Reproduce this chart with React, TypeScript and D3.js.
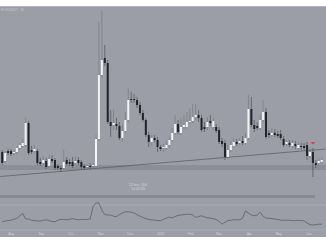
import React from "react";
import * as d3 from "d3";

// 3-day candles, Jul 2023 – Jun 2024 (arbitrary price units)
const opens = [
  0.48, 0.39, 0.49, 0.49, 0.47, 0.48, 0.52, 0.54, 0.55, 0.77,
  0.50, 0.49, 0.49, 0.38, 0.37, 0.39, 0.34, 0.41, 0.40, 0.34,
  0.32, 0.32, 0.40, 0.38, 0.38, 0.37, 0.40, 0.38, 0.34, 0.33,
  0.34, 0.34, 0.34, 0.61, 1.25, 1.42, 1.37, 0.78, 0.75, 0.76,
  0.74, 0.62, 0.69, 0.80, 1.01, 1.01, 1.00, 0.95, 0.87, 0.80,
  0.65, 0.58, 0.62, 0.60, 0.53, 0.52, 0.52, 0.55, 0.60, 0.67,
  0.76, 0.67, 0.73, 0.73, 0.78, 0.79, 0.83, 0.85, 0.82, 0.73,
  0.73, 0.79, 0.73, 0.73, 0.70, 0.59, 0.57, 0.43, 0.50, 0.54,
  0.58, 0.57, 0.59, 0.57, 0.62, 0.91, 0.75, 0.74, 0.72, 0.80,
  0.88, 0.67, 0.65, 0.67, 0.66, 0.66, 0.61, 0.56, 0.57, 0.54,
  0.56, 0.52, 0.54, 0.54, 0.55, 0.44, 0.48, 0.37, 0.37, 0.38,
];
const highs = [
  0.50, 0.49, 0.51, 0.51, 0.50, 0.54, 0.57, 0.61, 0.82, 0.79,
  0.54, 0.55, 0.51, 0.42, 0.44, 0.42, 0.45, 0.45, 0.42, 0.36,
  0.34, 0.50, 0.43, 0.41, 0.43, 0.44, 0.43, 0.40, 0.36, 0.36,
  0.37, 0.37, 0.65, 1.78, 1.90, 1.55, 1.40, 0.90, 0.90, 0.82,
  0.78, 0.75, 0.88, 1.12, 1.08, 1.06, 1.03, 0.98, 0.90, 0.82,
  0.68, 0.65, 0.65, 0.63, 0.55, 0.56, 0.59, 0.63, 0.72, 0.85,
  0.80, 0.82, 0.85, 0.88, 0.92, 0.96, 0.96, 0.90, 0.85, 0.78,
  0.83, 0.85, 0.82, 0.76, 0.73, 0.62, 0.60, 0.55, 0.59, 0.62,
  0.61, 0.62, 0.64, 0.67, 1.05, 1.03, 0.80, 0.78, 0.85, 1.00,
  0.92, 0.70, 0.72, 0.71, 0.69, 0.70, 0.64, 0.60, 0.60, 0.60,
  0.59, 0.58, 0.57, 0.57, 0.58, 0.52, 0.52, 0.40, 0.42, 0.42,
];
const lows = [
  0.35, 0.37, 0.45, 0.44, 0.45, 0.46, 0.50, 0.52, 0.53, 0.45,
  0.46, 0.47, 0.35, 0.34, 0.35, 0.31, 0.32, 0.37, 0.30, 0.30,
  0.28, 0.30, 0.34, 0.34, 0.32, 0.35, 0.35, 0.31, 0.30, 0.31,
  0.31, 0.32, 0.33, 0.59, 1.22, 1.34, 0.76, 0.63, 0.70, 0.70,
  0.60, 0.58, 0.67, 0.78, 0.97, 0.97, 0.92, 0.85, 0.78, 0.63,
  0.53, 0.54, 0.58, 0.48, 0.49, 0.48, 0.50, 0.52, 0.58, 0.65,
  0.66, 0.65, 0.70, 0.71, 0.76, 0.77, 0.80, 0.78, 0.68, 0.68,
  0.70, 0.74, 0.70, 0.67, 0.56, 0.53, 0.40, 0.41, 0.48, 0.52,
  0.54, 0.55, 0.55, 0.55, 0.60, 0.73, 0.68, 0.70, 0.70, 0.78,
  0.61, 0.62, 0.63, 0.63, 0.62, 0.60, 0.53, 0.54, 0.53, 0.52,
  0.51, 0.50, 0.50, 0.50, 0.40, 0.42, 0.23, 0.32, 0.34, 0.36,
];
const closes = [
  0.37, 0.47, 0.47, 0.46, 0.48, 0.52, 0.55, 0.57, 0.77, 0.47,
  0.48, 0.51, 0.37, 0.36, 0.40, 0.33, 0.41, 0.39, 0.32, 0.32,
  0.31, 0.38, 0.36, 0.36, 0.34, 0.39, 0.37, 0.33, 0.32, 0.34,
  0.33, 0.35, 0.61, 1.25, 1.40, 1.37, 0.78, 0.74, 0.77, 0.74,
  0.62, 0.69, 0.80, 1.00, 1.00, 1.00, 0.95, 0.87, 0.80, 0.65,
  0.58, 0.62, 0.60, 0.53, 0.51, 0.53, 0.55, 0.60, 0.67, 0.76,
  0.68, 0.73, 0.75, 0.78, 0.79, 0.83, 0.85, 0.82, 0.70, 0.71,
  0.78, 0.77, 0.79, 0.69, 0.58, 0.56, 0.43, 0.50, 0.55, 0.58,
  0.56, 0.59, 0.57, 0.62, 0.91, 0.75, 0.71, 0.72, 0.80, 0.88,
  0.63, 0.65, 0.67, 0.65, 0.64, 0.62, 0.55, 0.58, 0.55, 0.57,
  0.54, 0.55, 0.53, 0.52, 0.44, 0.48, 0.37, 0.35, 0.39, 0.40,
];
const oscillator = [
  38, 40, 41, 42, 44, 47, 53, 59, 45, 45,
  42, 41, 40, 40, 42, 43, 41, 39, 38, 42,
  44, 44, 43, 44, 46, 44, 43, 44, 44, 44,
  45, 76, 85, 85, 67, 56, 55, 55, 52, 51,
  56, 60, 63, 63, 62, 60, 56, 52, 49, 46,
  44, 43, 42, 41, 41, 44, 47, 50, 48, 51,
  54, 55, 56, 57, 57, 55, 49, 51, 53, 50,
  48, 47, 46, 44, 39, 32, 37, 41, 42, 43,
  43, 43, 47, 65, 60, 55, 53, 55, 62, 52,
  47, 47, 46, 45, 44, 42, 42, 42, 42, 41,
  41, 42, 41, 40, 35, 31, 30, 31, 32, 32,
];
const monthLabels = ["Aug", "Sep", "Oct", "Nov", "Dec", "2024", "Feb", "Mar", "Apr", "May", "Jun"];
const trendDates = [new Date(2023, 6, 21), new Date(2024, 5, 18)];
const trendPrices = [0.235, 0.51];
const supportZone = [0.30, 0.35];
const signalIndex = 106;

export default function App() {
  const W = 326, H = 245;
  const start = new Date(2023, 6, 23);
  const dates = opens.map((_, i) => d3.timeDay.offset(start, 3 * i));
  const x = d3.scaleTime().domain([new Date(2023, 7, 1), new Date(2024, 5, 1)]).range([11, 309]);
  const y = d3.scaleLinear().domain([0, 2]).range([200, 0]);
  const yo = d3.scaleLinear().domain([20, 80]).range([229, 205]);
  const monthDates = d3.timeMonth.range(new Date(2023, 7, 1), new Date(2024, 5, 2));
  const oscLine = d3.line<number>().x((_, i) => x(dates[i])).y((v) => yo(v));
  const bw = 2;
  const font = "'Liberation Sans', Arial, sans-serif";
  const sx = dates[signalIndex];

  return (
    <svg width={W} height={H} style={{ position: "absolute", left: 0, top: 0, display: "block" }}>
      <rect x={0} y={0} width={W} height={H} fill="#9c9ea7" />
      <rect x={0} y={0} width={W} height={6} fill="#ffffff" />
      <line x1={0} x2={W} y1={6.5} y2={6.5} stroke="#b3b5bc" strokeWidth={1} />
      <rect x={0} y={237} width={W} height={8} fill="#ffffff" />
      <text x={1} y={11} fontSize={3} fill="#c6c8cf" fontFamily={font}>FLOKIUSDT · 3D</text>

      {/* support zone */}
      <rect x={0} y={y(supportZone[1])} width={W} height={y(supportZone[0]) - y(supportZone[1])} fill="#8b8d97" />
      {/* trend line */}
      <line x1={x(trendDates[0])} y1={y(trendPrices[0])} x2={x(trendDates[1])} y2={y(trendPrices[1])} stroke="#555862" strokeWidth={0.7} />

      {/* candles */}
      {dates.map((d, i) => {
        const cx = x(d);
        const up = closes[i] >= opens[i];
        const top = y(Math.max(opens[i], closes[i]));
        const bot = y(Math.min(opens[i], closes[i]));
        return (
          <g key={i}>
            <line x1={cx} x2={cx} y1={y(highs[i])} y2={y(lows[i])} stroke={up ? "#70737d" : "#42444d"} strokeWidth={0.6} />
            <rect x={cx - bw / 2} y={top} width={bw} height={Math.max(1, bot - top)} fill={up ? "#f3f3f5" : "#22242c"} />
          </g>
        );
      })}
      {/* signal marker */}
      <path d={`M${x(sx) - 2.5},${y(highs[signalIndex]) - 6} L${x(sx) + 2.5},${y(highs[signalIndex]) - 6} L${x(sx)},${y(highs[signalIndex]) - 3.5} Z`} fill="#e0403c" />

      {/* measurement label */}
      <text x={138} y={185.5} fontSize={2.8} fill="#d0d2d8" textAnchor="middle" fontFamily={font}>111 bars, 330d</text>
      <text x={138} y={189.5} fontSize={2.8} fill="#d0d2d8" textAnchor="middle" fontFamily={font}>Vol 46.12B</text>
      <rect x={0} y={195} width={315} height={3} fill="#878993" />

      {/* oscillator pane */}
      <line x1={0} x2={W} y1={205} y2={205} stroke="#b0b2ba" strokeWidth={0.7} />
      <line x1={0} x2={W} y1={230} y2={230} stroke="#b0b2ba" strokeWidth={0.7} />
      <path d={oscLine(oscillator) || ""} fill="none" stroke="#5a5d68" strokeWidth={0.8} />

      {/* time axis */}
      {monthDates.map((d, i) => (
        <text key={i} x={x(d)} y={235} fontSize={3.2} fill="#d2d4da" textAnchor="middle" fontFamily={font}>
          {monthLabels[i]}
        </text>
      ))}
    </svg>
  );
}
